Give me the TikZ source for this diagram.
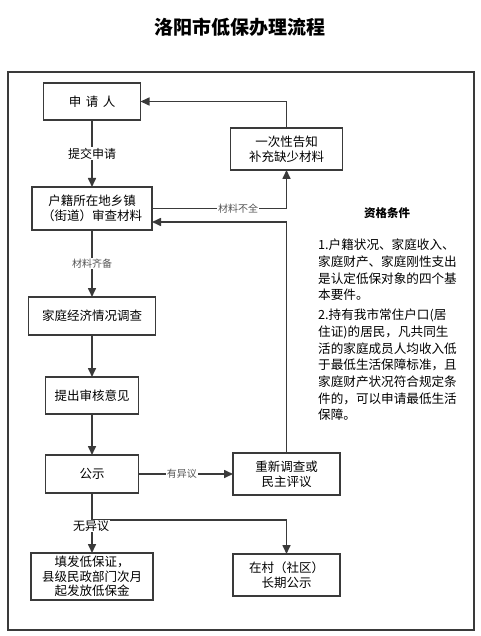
\documentclass[tikz,border=0pt]{standalone}
\usepackage{fontspec}
\setmainfont{Noto Sans CJK SC}
\usetikzlibrary{arrows.meta}
\definecolor{linec}{HTML}{3A3A3A}
\definecolor{labc}{HTML}{555555}
\begin{document}
\begin{tikzpicture}[x=1pt,y=-1pt,
  box/.style={draw=linec, line width=1.6pt, fill=white, align=center, inner sep=0pt, outer sep=0pt, font=\fontsize{12.5}{15}\selectfont},
  arr/.style={draw=linec, line width=1.6pt, -{Triangle[length=9pt,width=8pt]}},
  ln/.style={draw=linec, line width=1.6pt},
  lbl/.style={fill=white, inner sep=1pt, font=\fontsize{10}{12}\selectfont, text=labc},
  lblb/.style={fill=white, inner sep=1pt, font=\fontsize{12}{14}\selectfont},
  para/.style={anchor=base west, inner sep=0pt, font=\fontsize{12.6}{16.7}\selectfont}]
\useasboundingbox (0,0) rectangle (480,636);
\node[font=\fontsize{19}{23}\selectfont\bfseries] (title) at (240,27) {洛阳市低保办理流程};
\draw[draw=linec, line width=1.8pt] (8,72) rectangle (474,630);

\node[box, minimum width=97pt, minimum height=37pt] (apply) at (92,101.5) {申\hspace{4.5pt}请\hspace{4.5pt}人};
\node[box, minimum width=112pt, minimum height=42pt] (notify) at (286.5,149) {一次性告知\\补充缺少材料};
\node[box, minimum width=120pt, minimum height=43pt] (review) at (92,208.5) {户籍所在地乡镇\\（街道）审查材料};
\node[box, minimum width=127pt, minimum height=38pt] (survey) at (92,316) {家庭经济情况调查};
\node[box, minimum width=93pt, minimum height=37pt] (opinion) at (92,395.5) {提出审核意见};
\node[box, minimum width=93pt, minimum height=38pt] (publicity) at (92,474) {公示};
\node[box, minimum width=107pt, minimum height=42pt] (recheck) at (286.5,474) {重新调查或\\民主评议};
\node[box, minimum width=122pt, minimum height=47pt, font=\fontsize{12.5}{14.5}\selectfont] (issue) at (92,576.5) {填发低保证，\\县级民政部门次月\\起发放低保金};
\node[box, minimum width=107pt, minimum height=42pt] (village) at (286.5,575) {在村（社区）\\长期公示};

\coordinate (ret) at ([yshift=-13.5pt]review.east);
\coordinate (br) at (92,520);

\draw[arr] (apply) -- node[lblb]{提交申请} (review);
\draw[arr] (review.east) -| node[lbl, pos=0.32]{材料不全} (notify.south);
\draw[arr] (notify.north) |- (apply.east);
\draw[arr] (recheck.north) |- (ret);
\draw[arr] (review) -- node[lbl]{材料齐备} (survey);
\draw[arr] (survey) -- (opinion);
\draw[arr] (opinion) -- (publicity);
\draw[arr] (publicity) -- node[lbl, pos=0.46]{有异议} (recheck);
\draw[ln] (publicity.south) -- (br);
\draw[arr] (br) -| (village.north);
\draw[arr] (br) -- (issue.north);
\node[lblb] (noobj) at (91,526) {无异议};

\node[font=\fontsize{11.5}{14}\selectfont\bfseries] (cond) at (387,213) {资格条件};
\node[para] (l1) at (318,249.7) {1.户籍状况、家庭收入、};
\node[para] (l2) at (318,266.4) {家庭财产、家庭刚性支出};
\node[para] (l3) at (318,283.1) {是认定低保对象的四个基};
\node[para] (l4) at (318,299.8) {本要件。};
\node[para] (l5) at (318,319.7) {2.持有我市常住户口(居};
\node[para] (l6) at (318,336.4) {住证)的居民，凡共同生};
\node[para] (l7) at (318,353.1) {活的家庭成员人均收入低};
\node[para] (l8) at (318,369.8) {于最低生活保障标准，且};
\node[para] (l9) at (318,386.5) {家庭财产状况符合规定条};
\node[para] (l10) at (318,403.2) {件的，可以申请最低生活};
\node[para] (l11) at (318,419.9) {保障。};
\end{tikzpicture}
\end{document}
